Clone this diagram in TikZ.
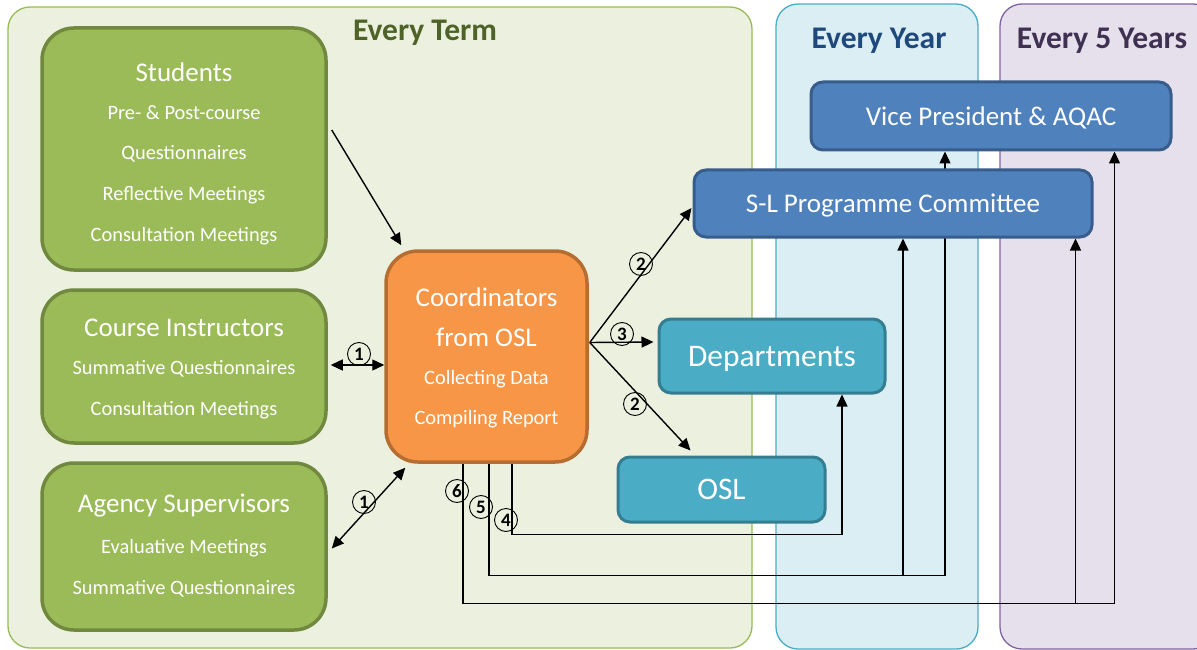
\documentclass[tikz,border=0pt]{standalone}
\usepackage{fontspec}
\setmainfont{Carlito}
\usetikzlibrary{arrows.meta,calc}
\definecolor{termfill}{HTML}{EBF1DE}
\definecolor{termline}{HTML}{9BBB59}
\definecolor{termtext}{HTML}{4F6228}
\definecolor{yearfill}{HTML}{DBEEF4}
\definecolor{yearline}{HTML}{4BACC6}
\definecolor{yeartext}{HTML}{1F497D}
\definecolor{fivefill}{HTML}{E6E0EC}
\definecolor{fiveline}{HTML}{8064A2}
\definecolor{fivetext}{HTML}{3F3151}
\definecolor{grnfill}{HTML}{9BBB59}
\definecolor{grnline}{HTML}{71893F}
\definecolor{orgfill}{HTML}{F79646}
\definecolor{orgline}{HTML}{B66D31}
\definecolor{blufill}{HTML}{4F81BD}
\definecolor{bluline}{HTML}{385D8A}
\definecolor{tealfill}{HTML}{4BACC6}
\definecolor{tealline}{HTML}{357D91}
\pgfdeclarelayer{panels}
\pgfdeclarelayer{wires}
\pgfsetlayers{panels,wires,main}
\tikzset{
  panelbox/.style={rounded corners=22pt, line width=1.3pt},
  paneltitle/.style={font=\fontsize{31.5}{34}\selectfont\bfseries},
  basebox/.style={rounded corners=#1, inner sep=0pt},
  greenbox/.style={basebox=32pt, fill=grnfill, draw=grnline, line width=3.5pt},
  orangebox/.style={basebox=32pt, fill=orgfill, draw=orgline, line width=3.5pt},
  bluebox/.style={basebox=12pt, fill=blufill, draw=bluline, line width=3pt, text depth=0pt},
  tealbox/.style={basebox=12pt, fill=tealfill, draw=tealline, line width=3pt, text depth=0pt},
  headtxt/.style={text=white, font=\fontsize{27}{30}\selectfont},
  subtxt/.style={text=white, font=\fontsize{20.4}{23}\selectfont},
  bigtxt/.style={text=white, font=\fontsize{31.4}{34}\selectfont},
  wire/.style={line width=1.4pt, draw=black},
  arr/.style={wire, -{Triangle[length=12pt,width=11pt]}},
  darr/.style={wire, {Triangle[length=12pt,width=11pt]}-{Triangle[length=12pt,width=11pt]}},
  numc/.style={circle, draw=black, line width=0.9pt, minimum size=23pt, inner sep=0pt,
               font=\fontsize{19}{19}\selectfont\bfseries}
}
\begin{document}
\begin{tikzpicture}[x=1pt,y=-1pt]
\useasboundingbox (0,0) rectangle (1197,650);

% frequency panels
\begin{pgfonlayer}{panels}
  \fill[white] (0,0) rectangle (1197,650);
  \draw[panelbox, fill=termfill, draw=termline] (8,7) rectangle (752,648);
  \draw[panelbox, fill=yearfill, draw=yearline] (776,4) rectangle (978,649);
  \draw[panelbox, fill=fivefill, draw=fiveline] (1000,4) rectangle (1215,649);
\end{pgfonlayer}
\node[paneltitle, text=termtext] (tterm) at (425,33) {Every Term};
\node[paneltitle, text=yeartext] (tyear) at (879,41) {Every Year};
\node[paneltitle, text=fivetext] (tfive) at (1102,41) {Every 5 Years};

% sources of feedback
\node[greenbox, minimum width=284pt, minimum height=242pt] (stu) at (184,149) {};
\node[headtxt] (stuh) at (184,72) {Students};
\node[subtxt] (stu1) at (184,113) {Pre- \& Post-course};
\node[subtxt] (stu2) at (184,154) {Questionnaires};
\node[subtxt] (stu3) at (184,195) {Reflective Meetings};
\node[subtxt] (stu4) at (184,236) {Consultation Meetings};

\node[greenbox, minimum width=284pt, minimum height=153pt] (ci) at (184,366.5) {};
\node[headtxt] (cih) at (184,328) {Course Instructors};
\node[subtxt] (ci1) at (184,369) {Summative Questionnaires};
\node[subtxt] (ci2) at (184,410) {Consultation Meetings};

\node[greenbox, minimum width=284pt, minimum height=167pt] (ag) at (184,546.5) {};
\node[headtxt] (agh) at (184,506) {Agency Supervisors};
\node[subtxt] (ag1) at (184,548) {Evaluative Meetings};
\node[subtxt] (ag2) at (184,589) {Summative Questionnaires};

% coordinators
\node[orangebox, minimum width=201pt, minimum height=211pt] (co) at (486.5,356.5) {};
\node[headtxt] (coh1) at (486.5,297) {Coordinators};
\node[headtxt] (coh2) at (486.5,337) {from OSL};
\node[subtxt] (co1) at (486.5,379) {Collecting Data};
\node[subtxt] (co2) at (486.5,419) {Compiling Report};

% recipients
\node[bluebox, minimum width=360pt, minimum height=68pt, headtxt] (vp) at (991,116) {Vice President \& AQAC};
\node[bluebox, minimum width=398pt, minimum height=67pt, headtxt] (sl) at (893,203.5) {S-L Programme Committee};
\node[tealbox, minimum width=226pt, minimum height=74pt, bigtxt] (dep) at (772,356) {Departments};
\node[tealbox, minimum width=207pt, minimum height=65pt, bigtxt] (osl) at (721.5,489.5) {OSL};

% connectors
\begin{pgfonlayer}{wires}
  \draw[arr] ($(stu.east)+(4,-19)$) -- ($(co.north west)+(17,-4)$);
  \draw[darr] ($(ci.east)+(3,-1.5)$) -- ($(co.west)+(0,8.5)$);
  \draw[darr] ($(ag.east)+(4,2)$) -- ($(co.south west)+(21,4)$);

  \coordinate (fan) at ($(co.east)+(1,-14)$);
  \draw[arr] (fan) -- ($(sl.west)+(-1,4.5)$);
  \draw[arr] (fan) -- ($(dep.west)+(-4,-14)$);
  \draw[arr] (fan) -- ($(osl.north west)+(74,-5)$);

  % report to departments
  \coordinate (r4) at ($(co.south)+(25.5,0)$);
  \coordinate (d4) at ($(dep.south)+(70,0)$);
  \draw[arr] (r4) |- ($(d4)+(0,140)$) -- (d4);

  % report to the programme committee and the vice president
  \coordinate (r5) at ($(co.south)+(2.5,0)$);
  \coordinate (s5) at ($(sl.south)+(10,0)$);
  \coordinate (v5) at ($(vp.south)+(-46,0)$);
  \draw[arr] (r5) |- ($(v5)+(0,424)$) -- (v5);
  \draw[arr] ($(s5)+(0,337)$) -- (s5);

  % five-yearly report
  \coordinate (r6) at ($(co.south)+(-23.5,0)$);
  \coordinate (s6) at ($(sl.south east)+(-18,0)$);
  \coordinate (v6) at ($(vp.south east)+(-58,0)$);
  \draw[arr] (r6) |- ($(v6)+(0,452)$) -- (v6);
  \draw[arr] ($(s6)+(0,365)$) -- (s6);
\end{pgfonlayer}

% step numbers
\node[numc] (n1a) at (359,354) {1};
\node[numc] (n1b) at (364,502) {1};
\node[numc] (n2a) at (641,264) {2};
\node[numc] (n3) at (622,334) {3};
\node[numc] (n2b) at (635,404) {2};
\node[numc] (n6) at (457,491) {6};
\node[numc] (n5) at (481,507) {5};
\node[numc] (n4) at (506,520) {4};
\end{tikzpicture}
\end{document}
